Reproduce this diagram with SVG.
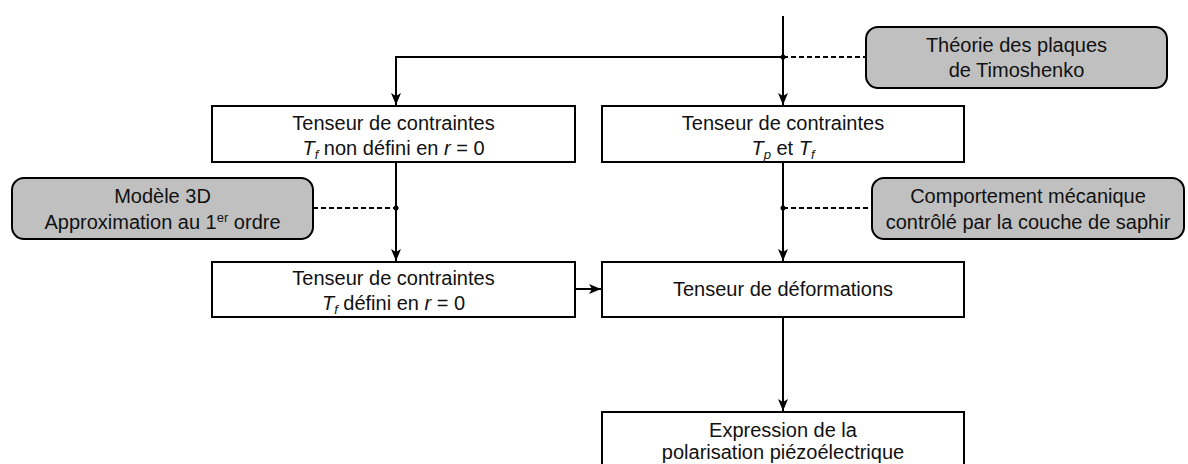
<svg xmlns="http://www.w3.org/2000/svg" width="1188" height="464" viewBox="0 0 1188 464">
<style>
.box{fill:#ffffff;stroke:#000;stroke-width:2}
.gbox{fill:#c0c0c0;stroke:#000;stroke-width:2}
.t{font-family:"Liberation Sans",Arial,sans-serif;font-size:20px;fill:#111;text-anchor:middle}
.i{font-style:italic}
.sub{font-style:italic;font-size:13px}
.c{fill:none;stroke:#000;stroke-width:2}
.d{fill:none;stroke:#000;stroke-width:1.8;stroke-dasharray:5 3}
</style>
<defs>
<marker id="ah" viewBox="0 0 12 10" markerWidth="12" markerHeight="10" refX="12" refY="5" orient="auto" markerUnits="userSpaceOnUse">
<path d="M0,0 L12,5 L0,10 L3,5 z" fill="#000"/>
</marker>
</defs>
<rect width="1188" height="464" fill="#fff"/>
<g id="connectors">
<path class="c" d="M783,16 V105" marker-end="url(#ah)"/>
<path class="c" d="M783,57 H396 V105" marker-end="url(#ah)"/>
<path class="d" d="M783,57 H866"/>
<circle cx="783" cy="57" r="2.5"/>
<path class="c" d="M396,163 V261" marker-end="url(#ah)"/>
<path class="d" d="M313,208 H396"/>
<circle cx="396" cy="208" r="2.5"/>
<path class="c" d="M783,163 V261" marker-end="url(#ah)"/>
<path class="d" d="M783,208 H872"/>
<circle cx="783" cy="208" r="2.5"/>
<path class="c" d="M575,289 H601" marker-end="url(#ah)"/>
<path class="c" d="M783,317 V411" marker-end="url(#ah)"/>
</g>
<g id="timoshenko">
<rect class="gbox" x="866" y="27" width="301" height="61" rx="12"/>
<text class="t" x="1016.5" y="52">Théorie des plaques</text>
<text class="t" x="1016.5" y="77">de Timoshenko</text>
</g>
<g id="contraintes1">
<rect class="box" x="212" y="106" width="363" height="56"/>
<text class="t" x="393.5" y="130">Tenseur de contraintes</text>
<text class="t" x="393.5" y="155"><tspan class="i">T</tspan><tspan class="sub" dy="4">f</tspan><tspan dy="-4"> non défini en </tspan><tspan class="i">r</tspan> = 0</text>
</g>
<g id="contraintes2">
<rect class="box" x="602" y="106" width="362" height="56"/>
<text class="t" x="783" y="130">Tenseur de contraintes</text>
<text class="t" x="783" y="155"><tspan class="i">T</tspan><tspan class="sub" dy="4">p</tspan><tspan dy="-4"> et </tspan><tspan class="i">T</tspan><tspan class="sub" dy="4">f</tspan></text>
</g>
<g id="modele3d">
<rect class="gbox" x="12" y="178" width="301" height="61" rx="12"/>
<text class="t" x="162.5" y="203">Modèle 3D</text>
<text class="t" x="162.5" y="229">Approximation au 1<tspan font-size="13" dy="-7">er</tspan><tspan dy="7"> ordre</tspan></text>
</g>
<g id="comportement">
<rect class="gbox" x="872" y="178" width="312" height="61" rx="12"/>
<text class="t" x="1028" y="203">Comportement mécanique</text>
<text class="t" x="1028" y="229">contrôlé par la couche de saphir</text>
</g>
<g id="contraintes3">
<rect class="box" x="212" y="262" width="363" height="55"/>
<text class="t" x="393.5" y="285">Tenseur de contraintes</text>
<text class="t" x="393.5" y="310"><tspan class="i">T</tspan><tspan class="sub" dy="4">f</tspan><tspan dy="-4"> défini en </tspan><tspan class="i">r</tspan> = 0</text>
</g>
<g id="deformations">
<rect class="box" x="602" y="262" width="362" height="55"/>
<text class="t" x="783" y="296">Tenseur de déformations</text>
</g>
<g id="polarisation">
<rect class="box" x="602" y="412" width="362" height="60"/>
<text class="t" x="783" y="437">Expression de la</text>
<text class="t" x="783" y="459">polarisation piézoélectrique</text>
</g>
</svg>
